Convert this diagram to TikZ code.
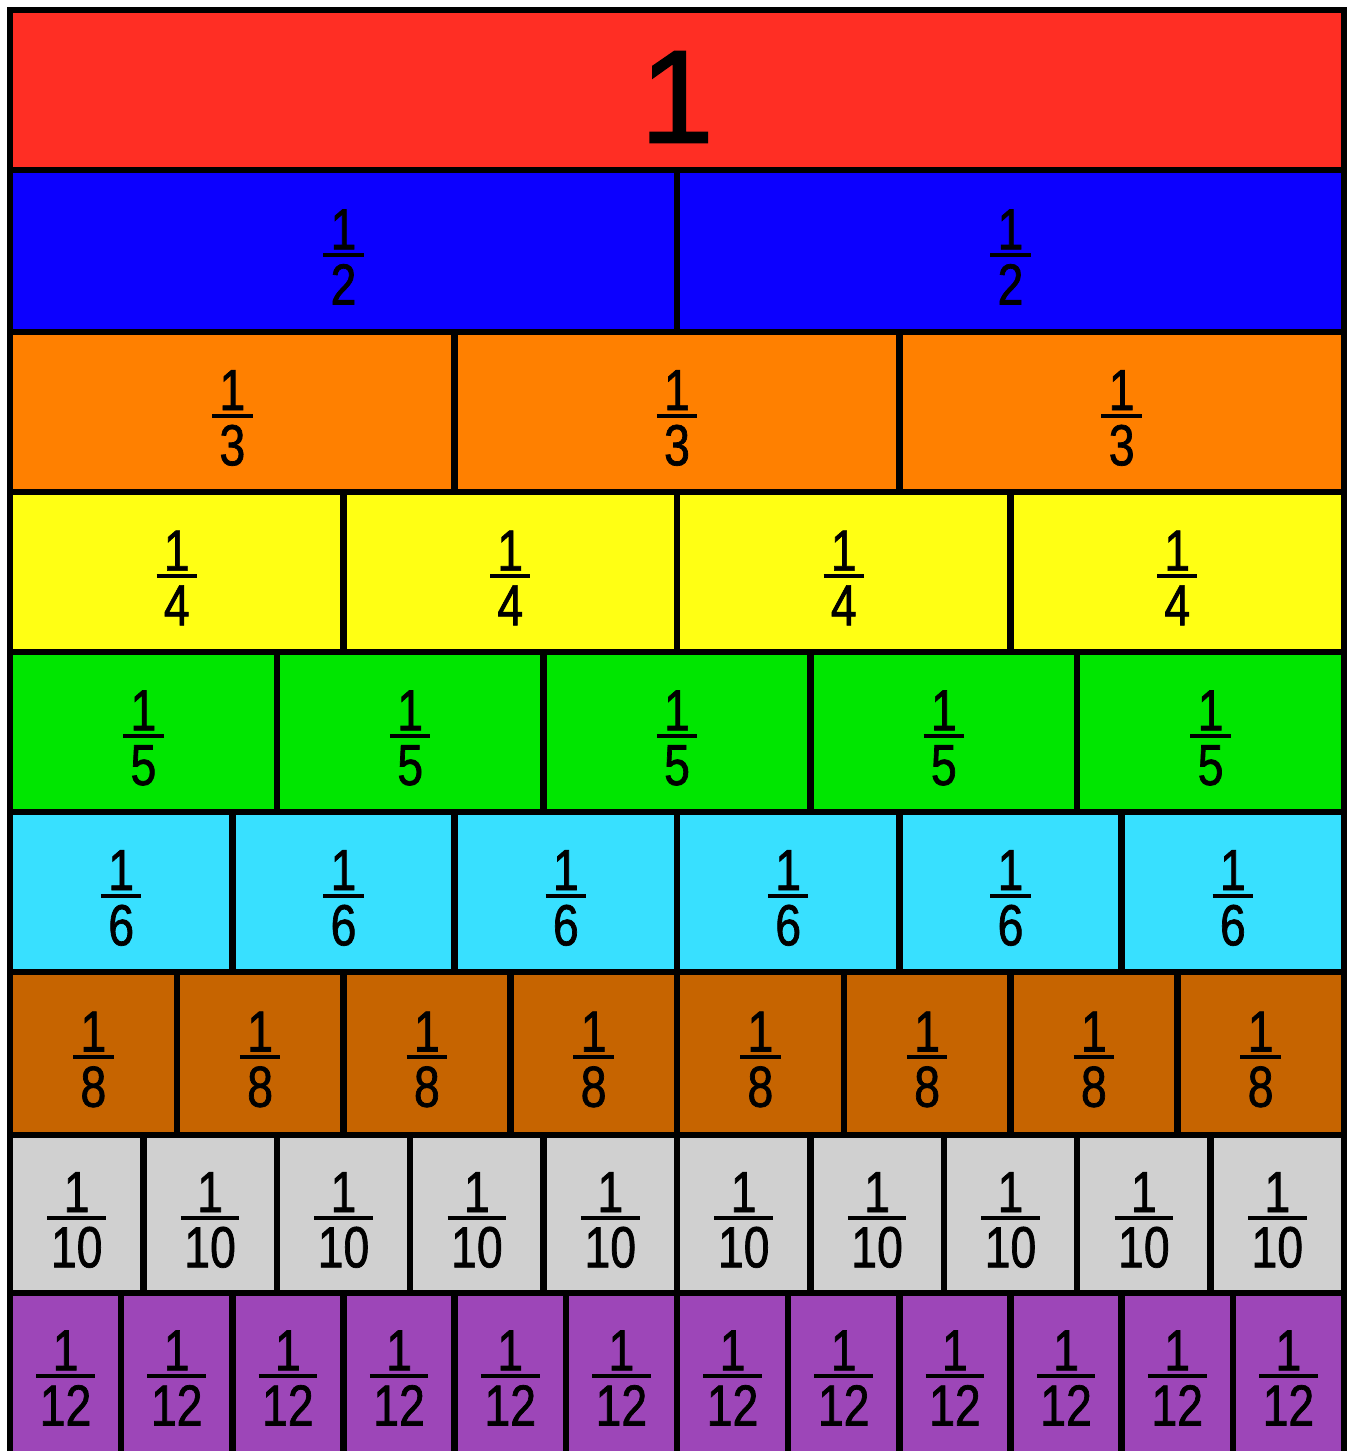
\documentclass[tikz,border=0pt]{standalone}
\usepackage{fontspec}
\setmainfont{Liberation Sans}[FakeStretch=0.8, FakeBold=1.2]
\newfontfamily\onefont{Liberation Sans}[FakeBold=1.5]
\definecolor{cred}{RGB}{255,46,36}
\definecolor{cblue}{RGB}{12,0,255}
\definecolor{corange}{RGB}{255,128,0}
\definecolor{cyellow}{RGB}{255,255,20}
\definecolor{cgreen}{RGB}{0,230,0}
\definecolor{ccyan}{RGB}{56,224,255}
\definecolor{cbrown}{RGB}{198,100,0}
\definecolor{cgray}{RGB}{208,208,208}
\definecolor{cpurple}{RGB}{157,70,184}
\newlength\fw
\newcommand\fracd[1]{\settowidth\fw{#1}\addtolength\fw{4pt}%
\ifdim\fw<23pt\fw=23pt\fi
\vbox{\offinterlineskip\halign{\hfil##\hfil\cr 1\cr\noalign{\kern2pt}\rule{\fw}{2.4pt}\cr\noalign{\kern4pt}#1\cr}}}
\tikzset{
  cellline/.style={draw=black, line width=0.13cm},
  fractext/.style={inner sep=0pt, font=\fontsize{33}{33}\selectfont},
  wholetext/.style={inner sep=0pt, font=\onefont\fontsize{75}{75}\selectfont}
}
\begin{document}
\begin{tikzpicture}[x=0.02cm, y=-0.02cm]
\useasboundingbox[fill=white] (0,0) rectangle (1351,1451);
\clip (0,0) rectangle (1351,1451);
\foreach \n/\t/\b/\c in {1/10/170/cred, 2/170/332/cblue, 3/332/492/corange, 4/492/652/cyellow, 5/652/812/cgreen, 6/812/972/ccyan, 8/972/1135/cbrown, 10/1135/1293/cgray, 12/1293/1458/cpurple}{
  \foreach \k in {1,...,\n}{
    \pgfmathsetmacro\xa{10+1334*(\k-1)/\n}
    \pgfmathsetmacro\xb{10+1334*\k/\n}
    \filldraw[fill=\c, cellline] (\xa,\t) rectangle (\xb,\b);
  }
}
\node[wholetext] (whole) at (677,97) {1};
\foreach \n/\t/\b in {2/170/332, 3/332/492, 4/492/652, 5/652/812, 6/812/972, 8/972/1135, 10/1135/1293, 12/1293/1451}{
  \foreach \k in {1,...,\n}{
    \pgfmathsetmacro\xc{10+1334*(\k-0.5)/\n}
    \pgfmathsetmacro\yc{(\t+\b)/2+6}
    \node[fractext] (f\n-\k) at (\xc,\yc) {\fracd{\n}};
  }
}
\end{tikzpicture}
\end{document}
